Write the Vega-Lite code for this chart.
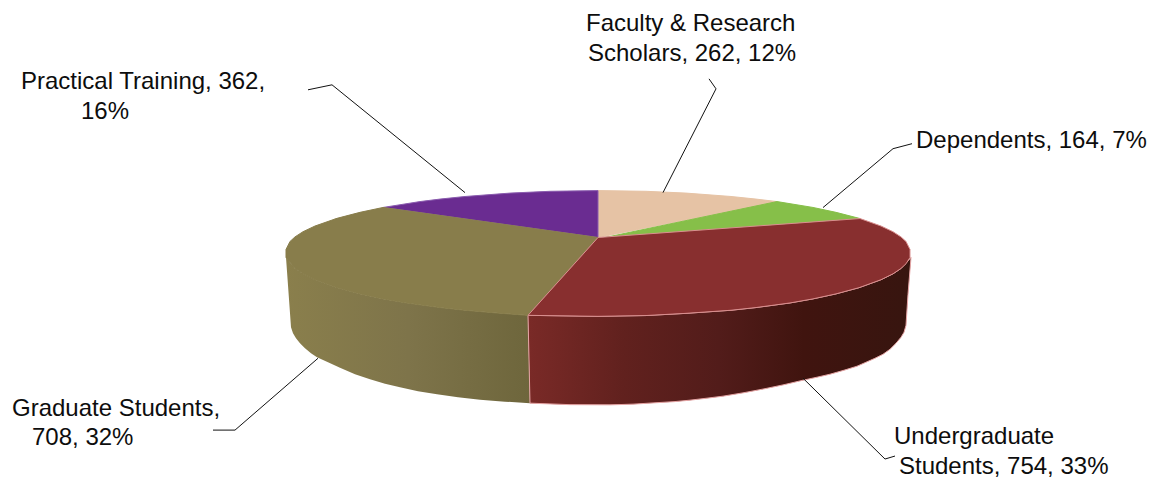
{"$schema":"https://vega.github.io/schema/vega-lite/v6.json","width":1151,"height":479,"padding":0,"autosize":{"type":"fit","contains":"padding"},"background":"white","config":{"view":{"stroke":null}},
"datasets":{
"sideOlive":[{"i":1,"x":286,"y":258},{"i":2,"x":295,"y":269},{"i":3,"x":303,"y":274.4},{"i":4,"x":315,"y":280.3},{"i":5,"x":337,"y":288.3},{"i":6,"x":360,"y":294.5},{"i":7,"x":383,"y":299.5},{"i":8,"x":405,"y":303.4},{"i":9,"x":440,"y":308.2},{"i":10,"x":465,"y":310.9},{"i":11,"x":495,"y":313.5},{"i":12,"x":528,"y":316},{"i":13,"x":530,"y":404},{"i":14,"x":505,"y":402.5},{"i":15,"x":480,"y":400.5},{"i":16,"x":458,"y":398},{"i":17,"x":437,"y":395},{"i":18,"x":418,"y":392},{"i":19,"x":400,"y":388},{"i":20,"x":385,"y":384.5},{"i":21,"x":370,"y":380},{"i":22,"x":355,"y":375},{"i":23,"x":340,"y":368.5},{"i":24,"x":328,"y":363},{"i":25,"x":317,"y":358},{"i":26,"x":311,"y":354},{"i":27,"x":305,"y":349},{"i":28,"x":300,"y":344},{"i":29,"x":296,"y":339},{"i":30,"x":293,"y":334},{"i":31,"x":291,"y":328},{"i":32,"x":289,"y":300},{"i":33,"x":286,"y":258}],
"sideRed":[{"i":1,"x":528,"y":316},{"i":2,"x":598,"y":317},{"i":3,"x":646,"y":316.2},{"i":4,"x":686,"y":314},{"i":5,"x":731,"y":310.9},{"i":6,"x":756,"y":308.2},{"i":7,"x":790,"y":303.6},{"i":8,"x":813,"y":299.5},{"i":9,"x":836,"y":294.5},{"i":10,"x":859,"y":288.3},{"i":11,"x":881,"y":280.3},{"i":12,"x":893,"y":274.4},{"i":13,"x":901,"y":269},{"i":14,"x":911,"y":258},{"i":15,"x":908,"y":295},{"i":16,"x":906,"y":326},{"i":17,"x":904,"y":333},{"i":18,"x":901,"y":338},{"i":19,"x":896,"y":344},{"i":20,"x":890,"y":350},{"i":21,"x":883,"y":355},{"i":22,"x":875,"y":359},{"i":23,"x":866,"y":363},{"i":24,"x":857,"y":367},{"i":25,"x":844,"y":371},{"i":26,"x":830,"y":375},{"i":27,"x":817,"y":378},{"i":28,"x":803,"y":381},{"i":29,"x":784,"y":385.5},{"i":30,"x":765,"y":389.5},{"i":31,"x":744,"y":393.5},{"i":32,"x":723,"y":397},{"i":33,"x":707,"y":399},{"i":34,"x":690,"y":401},{"i":35,"x":674,"y":402.5},{"i":36,"x":657,"y":403.5},{"i":37,"x":633,"y":405},{"i":38,"x":610,"y":405.7},{"i":39,"x":570,"y":405.5},{"i":40,"x":530,"y":404},{"i":41,"x":528,"y":316}],
"top":[
{"segment":"Faculty & Research Scholars","i":1,"x":598,"y":238},{"segment":"Faculty & Research Scholars","i":2,"x":598,"y":191},{"segment":"Faculty & Research Scholars","i":3,"x":646,"y":191.7},{"segment":"Faculty & Research Scholars","i":4,"x":686,"y":193.5},{"segment":"Faculty & Research Scholars","i":5,"x":731,"y":196.9},{"segment":"Faculty & Research Scholars","i":6,"x":756,"y":199.5},{"segment":"Faculty & Research Scholars","i":7,"x":777,"y":202},{"segment":"Faculty & Research Scholars","i":8,"x":598,"y":238},
{"segment":"Dependents","i":1,"x":605,"y":238},{"segment":"Dependents","i":2,"x":777,"y":202},{"segment":"Dependents","i":3,"x":813,"y":207.9},{"segment":"Dependents","i":4,"x":836,"y":212.8},{"segment":"Dependents","i":5,"x":860,"y":219},{"segment":"Dependents","i":6,"x":605,"y":238},
{"segment":"Practical Training","i":1,"x":598,"y":238},{"segment":"Practical Training","i":2,"x":598,"y":191},{"segment":"Practical Training","i":3,"x":550,"y":191.7},{"segment":"Practical Training","i":4,"x":510,"y":193.5},{"segment":"Practical Training","i":5,"x":465,"y":196.9},{"segment":"Practical Training","i":6,"x":440,"y":199.5},{"segment":"Practical Training","i":7,"x":420,"y":202},{"segment":"Practical Training","i":8,"x":383,"y":207.9},{"segment":"Practical Training","i":9,"x":598,"y":238},
{"segment":"Graduate Students","i":1,"x":598,"y":238},{"segment":"Graduate Students","i":2,"x":383,"y":207.9},{"segment":"Graduate Students","i":3,"x":360,"y":212.8},{"segment":"Graduate Students","i":4,"x":337,"y":218.8},{"segment":"Graduate Students","i":5,"x":315,"y":226.5},{"segment":"Graduate Students","i":6,"x":303,"y":232.2},{"segment":"Graduate Students","i":7,"x":295,"y":237.4},{"segment":"Graduate Students","i":8,"x":290,"y":242},{"segment":"Graduate Students","i":9,"x":286,"y":250},{"segment":"Graduate Students","i":10,"x":286,"y":258},{"segment":"Graduate Students","i":11,"x":295,"y":269},{"segment":"Graduate Students","i":12,"x":303,"y":274.4},{"segment":"Graduate Students","i":13,"x":315,"y":280.3},{"segment":"Graduate Students","i":14,"x":337,"y":288.3},{"segment":"Graduate Students","i":15,"x":360,"y":294.5},{"segment":"Graduate Students","i":16,"x":383,"y":299.5},{"segment":"Graduate Students","i":17,"x":405,"y":303.4},{"segment":"Graduate Students","i":18,"x":440,"y":308.2},{"segment":"Graduate Students","i":19,"x":465,"y":310.9},{"segment":"Graduate Students","i":20,"x":495,"y":313.5},{"segment":"Graduate Students","i":21,"x":528,"y":316},{"segment":"Graduate Students","i":22,"x":598,"y":238},
{"segment":"Undergraduate Students","i":1,"x":598,"y":238},{"segment":"Undergraduate Students","i":2,"x":860,"y":219},{"segment":"Undergraduate Students","i":3,"x":881,"y":226.5},{"segment":"Undergraduate Students","i":4,"x":893,"y":232.2},{"segment":"Undergraduate Students","i":5,"x":901,"y":237.4},{"segment":"Undergraduate Students","i":6,"x":906,"y":242},{"segment":"Undergraduate Students","i":7,"x":910,"y":250},{"segment":"Undergraduate Students","i":8,"x":910,"y":258},{"segment":"Undergraduate Students","i":9,"x":906,"y":264.4},{"segment":"Undergraduate Students","i":10,"x":901,"y":269},{"segment":"Undergraduate Students","i":11,"x":893,"y":274.4},{"segment":"Undergraduate Students","i":12,"x":881,"y":280.3},{"segment":"Undergraduate Students","i":13,"x":859,"y":288.3},{"segment":"Undergraduate Students","i":14,"x":836,"y":294.5},{"segment":"Undergraduate Students","i":15,"x":813,"y":299.5},{"segment":"Undergraduate Students","i":16,"x":790,"y":303.6},{"segment":"Undergraduate Students","i":17,"x":756,"y":308.2},{"segment":"Undergraduate Students","i":18,"x":731,"y":310.9},{"segment":"Undergraduate Students","i":19,"x":686,"y":314},{"segment":"Undergraduate Students","i":20,"x":646,"y":316.2},{"segment":"Undergraduate Students","i":21,"x":598,"y":317},{"segment":"Undergraduate Students","i":22,"x":528,"y":316},{"segment":"Undergraduate Students","i":23,"x":598,"y":238}],
"leaders":[
{"segment":"Practical Training","i":1,"x":308,"y":90},{"segment":"Practical Training","i":2,"x":332,"y":85},{"segment":"Practical Training","i":3,"x":465,"y":193},
{"segment":"Faculty & Research Scholars","i":1,"x":709,"y":79},{"segment":"Faculty & Research Scholars","i":2,"x":716,"y":89},{"segment":"Faculty & Research Scholars","i":3,"x":663,"y":193},
{"segment":"Dependents","i":1,"x":912,"y":144},{"segment":"Dependents","i":2,"x":893,"y":149},{"segment":"Dependents","i":3,"x":823,"y":208},
{"segment":"Undergraduate Students","i":1,"x":895,"y":457},{"segment":"Undergraduate Students","i":2,"x":885,"y":460},{"segment":"Undergraduate Students","i":3,"x":803,"y":379},
{"segment":"Graduate Students","i":1,"x":213,"y":431},{"segment":"Graduate Students","i":2,"x":235,"y":431},{"segment":"Graduate Students","i":3,"x":318,"y":359}],
"labels":[
{"line":"Faculty & Research","x":586,"y":31},{"line":"Scholars, 262, 12%","x":588,"y":61},
{"line":"Dependents, 164, 7%","x":916,"y":148},
{"line":"Practical Training, 362,","x":21,"y":89},{"line":"16%","x":81,"y":119},
{"line":"Graduate Students,","x":12,"y":417},{"line":"708, 32%","x":32,"y":446},
{"line":"Undergraduate","x":894,"y":445},{"line":"Students, 754, 33%","x":899,"y":475}]
},
"encoding":{
"x":{"field":"x","type":"quantitative","axis":null,"scale":{"domain":[0,1151],"nice":false,"zero":false}},
"y":{"field":"y","type":"quantitative","axis":null,"scale":{"domain":[479,0],"nice":false,"zero":false}}
},
"layer":[
{"data":{"name":"sideOlive"},"mark":{"type":"line","strokeWidth":0,"fill":{"gradient":"linear","x1":0,"y1":0,"x2":1,"y2":0,"stops":[{"offset":0,"color":"#8a7f4c"},{"offset":0.5,"color":"#7e744a"},{"offset":1,"color":"#6e663c"}]}},"encoding":{"order":{"field":"i","type":"quantitative"}}},
{"data":{"name":"sideRed"},"mark":{"type":"line","stroke":"#e6a5a5","strokeWidth":1,"fill":{"gradient":"linear","x1":0,"y1":0,"x2":1,"y2":0,"stops":[{"offset":0,"color":"#7a2a27"},{"offset":0.25,"color":"#61211e"},{"offset":0.5,"color":"#521c1a"},{"offset":0.72,"color":"#40140f"},{"offset":1,"color":"#37150f"}]}},"encoding":{"order":{"field":"i","type":"quantitative"}}},
{"data":{"name":"top"},"mark":{"type":"line","strokeWidth":1},"encoding":{"order":{"field":"i","type":"quantitative"},
"fill":{"field":"segment","type":"nominal","legend":null,"scale":{"domain":["Faculty & Research Scholars","Dependents","Practical Training","Graduate Students","Undergraduate Students"],"range":["#e6c3a5","#86bf49","#6a2c91","#887d4b","#882f2f"]}},
"stroke":{"field":"segment","type":"nominal","legend":null,"scale":{"domain":["Faculty & Research Scholars","Dependents","Practical Training","Graduate Students","Undergraduate Students"],"range":["#e6c3a5","#86bf49","#8a5cae","#887d4b","#d98f8f"]}}}},
{"data":{"name":"leaders"},"mark":{"type":"line","stroke":"#111111","strokeWidth":1},"encoding":{"order":{"field":"i","type":"quantitative"},"detail":{"field":"segment","type":"nominal"}}},
{"data":{"name":"labels"},"mark":{"type":"text","align":"left","baseline":"alphabetic","font":"Liberation Sans","fontSize":24,"color":"#0d0d0d"},"encoding":{"text":{"field":"line","type":"nominal"}}}
]}
